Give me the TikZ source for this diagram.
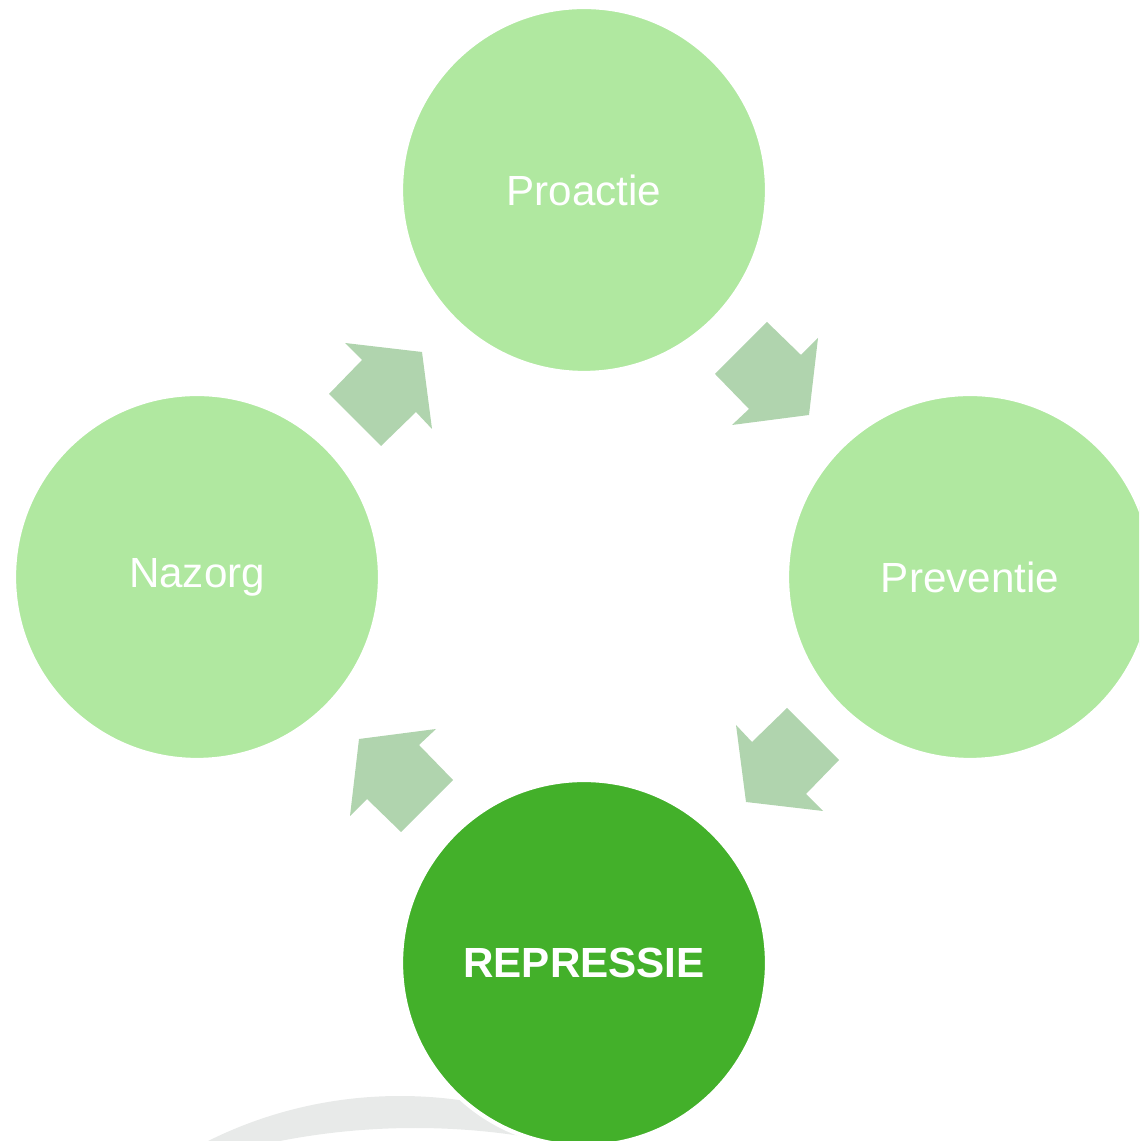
\documentclass[tikz,border=0pt]{standalone}
\usepackage{fontspec}
\setmainfont{Liberation Sans}
\usepackage{tikz}
\usetikzlibrary{positioning}
\definecolor{palegreen}{RGB}{176, 232, 160}
\definecolor{arrowgreen}{RGB}{176, 212, 174}
\definecolor{darkgreen}{RGB}{67, 176, 42}
\definecolor{lightgray}{RGB}{232, 234, 233}

\begin{document}
\begin{tikzpicture}[line cap=round, line join=round,
	phase/.style={circle, minimum size=3.66cm, inner sep=0pt, draw=white, line width=1.2pt, text=white, font=\fontsize{12pt}{14pt}\selectfont},
	step arrow/.style={fill=arrowgreen, draw=none}]

		% picture frame
		\useasboundingbox (0,0) rectangle (11.39,11.41);
		\clip (0,0) rectangle (11.39,11.41);

		% grey band at the bottom
		\fill [lightgray, even odd rule] (4.00,-3.86) circle (4.31) (4.15,-6.87) circle (7.00);

		% centre of the cycle
		\coordinate (C) at (5.84,5.64);

		% phases
		\node [phase, fill=palegreen] (proactie) at (5.84,9.51) {Proactie};
		\node [phase, fill=palegreen] (preventie) at (9.70,5.64) {Preventie};
		\node [phase, fill=darkgreen, font=\fontsize{12pt}{14pt}\selectfont\bfseries] (repressie) at (5.84,1.78) {REPRESSIE};
		\node [phase, fill=palegreen] (nazorg) at (1.97,5.64) {Nazorg};

		% block arrows between the phases
		\foreach \a in {0,-90,-180,-270}
			\fill [step arrow, shift={(C)}, rotate=\a]
				(1.83,2.55)--(2.17,2.22)--(2.34,2.39)--(2.25,1.62)--(1.48,1.52)--(1.65,1.68)--(1.31,2.03)--cycle;
    \end{tikzpicture}
\end{document}
